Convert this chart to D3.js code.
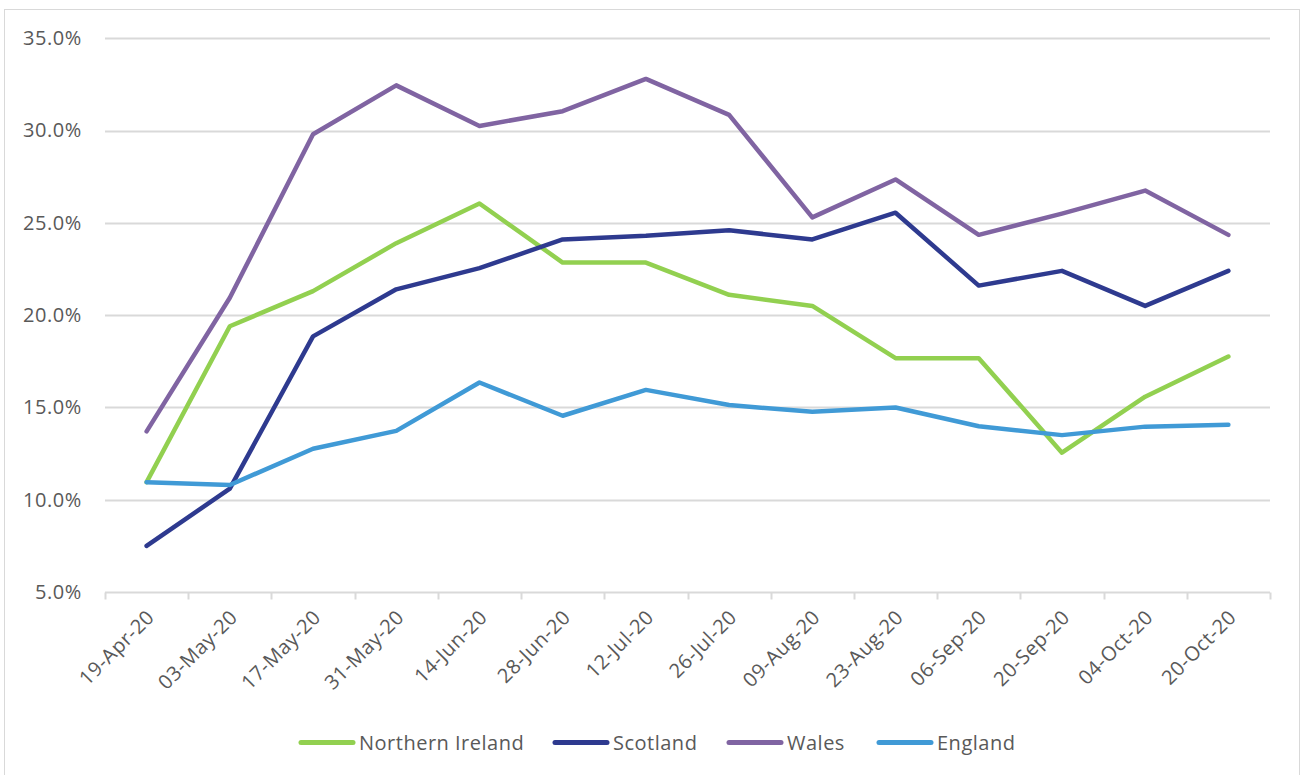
<!DOCTYPE html>
<html>
<head>
<meta charset="utf-8">
<script src="https://cdn.jsdelivr.net/npm/d3@7"></script>
<style>
  html, body { margin: 0; padding: 0; background: #fff; }
  svg { display: block; }
  text { font-family: "Open Sans", "Noto Sans", sans-serif; fill: #595959; letter-spacing: 0.5px; }
</style>
</head>
<body>
<svg id="chart" width="1301" height="775"></svg>
<script>
// Fortnightly dates on the category axis
const categories = ["19-Apr-20","03-May-20","17-May-20","31-May-20","14-Jun-20","28-Jun-20","12-Jul-20",
  "26-Jul-20","09-Aug-20","23-Aug-20","06-Sep-20","20-Sep-20","04-Oct-20","20-Oct-20"];

// Percentage values per nation
const northernIreland = [10.95, 19.4, 21.3, 23.9, 26.05, 22.85, 22.85, 21.1, 20.5, 17.67, 17.67, 12.55, 15.58, 17.76];
const scotland        = [7.5, 10.6, 18.85, 21.4, 22.55, 24.1, 24.3, 24.6, 24.1, 25.55, 21.6, 22.4, 20.5, 22.4];
const wales           = [13.7, 20.94, 29.8, 32.45, 30.25, 31.05, 32.8, 30.85, 25.3, 27.35, 24.35, 25.5, 26.75, 24.35];
const england         = [10.95, 10.8, 12.76, 13.73, 16.35, 14.55, 15.95, 15.13, 14.76, 15.0, 13.98, 13.5, 13.96, 14.06];

const seriesNames  = ["Northern Ireland", "Scotland", "Wales", "England"];
const seriesColors = ["#92D050", "#2E3A8F", "#8064A2", "#409AD6"];
const yTicks = [5, 10, 15, 20, 25, 30, 35];

const series = [northernIreland, scotland, wales, england].map((values, i) => ({
  name: seriesNames[i], color: seriesColors[i], values
}));

const svg = d3.select("#chart");

// Outer chart frame
svg.append("rect")
  .attr("x", 4.5).attr("y", 9.5)
  .attr("width", 1295).attr("height", 780)
  .attr("fill", "#fff").attr("stroke", "#d9d9d9").attr("stroke-width", 1);

const plot = { left: 105, right: 1270, top: 38.3, bottom: 592 };

const x = d3.scaleBand().domain(categories).range([plot.left, plot.right]).padding(0);
const y = d3.scaleLinear().domain([5, 35]).range([plot.bottom, plot.top]);

// Horizontal gridlines
svg.append("g")
  .selectAll("line")
  .data(yTicks.filter(t => t !== 5))
  .join("line")
  .attr("x1", plot.left).attr("x2", plot.right)
  .attr("y1", d => Math.round(y(d)) + 0.5).attr("y2", d => Math.round(y(d)) + 0.5)
  .attr("stroke", "#d9d9d9").attr("stroke-width", 2);

// Y axis labels
const yAxis = svg.append("g")
  .attr("transform", `translate(${plot.left},0)`)
  .call(d3.axisLeft(y).tickValues(yTicks).tickFormat(d => d.toFixed(1) + "%").tickSize(0).tickPadding(23));
yAxis.select(".domain").remove();
yAxis.selectAll("text")
  .style("font-family", "'Open Sans', sans-serif")
  .style("font-size", "20px")
  .style("letter-spacing", "0.6px")
  .attr("fill", "#595959");

// X axis with tick marks at category boundaries
const xAxisG = svg.append("g").attr("transform", `translate(0,${Math.round(plot.bottom) + 0.5})`);
xAxisG.append("line")
  .attr("x1", plot.left).attr("x2", plot.right)
  .attr("stroke", "#d9d9d9").attr("stroke-width", 2);
const boundaries = categories.map(c => x(c)).concat([x(categories[categories.length - 1]) + x.bandwidth()]);
xAxisG.selectAll("line.tick")
  .data(boundaries)
  .join("line")
  .attr("class", "tick")
  .attr("x1", d => Math.round(d) + 0.5).attr("x2", d => Math.round(d) + 0.5)
  .attr("y1", 0).attr("y2", 7)
  .attr("stroke", "#d9d9d9").attr("stroke-width", 2);
xAxisG.selectAll("text")
  .data(categories)
  .join("text")
  .attr("transform", d => `translate(${x(d) + x.bandwidth() / 2 + 4},${21}) rotate(-45)`)
  .attr("text-anchor", "end")
  .attr("dy", "0.35em")
  .style("font-size", "20px")
  .text(d => d);

// Series lines
const line = d3.line()
  .x((d, i) => x(categories[i]) + x.bandwidth() / 2)
  .y(d => y(d));

svg.append("g")
  .selectAll("path")
  .data(series)
  .join("path")
  .attr("d", s => line(s.values))
  .attr("fill", "none")
  .attr("stroke", s => s.color)
  .attr("stroke-width", 4.5)
  .attr("stroke-linejoin", "round")
  .attr("stroke-linecap", "round");

// Legend
const legendX = [299, 553, 727, 877];
const legend = svg.append("g")
  .selectAll("g")
  .data(series)
  .join("g")
  .attr("transform", (s, i) => `translate(${legendX[i]},742.5)`);
legend.append("line")
  .attr("x1", 2).attr("x2", 54)
  .attr("stroke", s => s.color)
  .attr("stroke-width", 5)
  .attr("stroke-linecap", "round");
legend.append("text")
  .attr("x", 60)
  .attr("dy", "0.35em")
  .style("font-size", "20px")
  .text(s => s.name);
</script>
</body>
</html>
